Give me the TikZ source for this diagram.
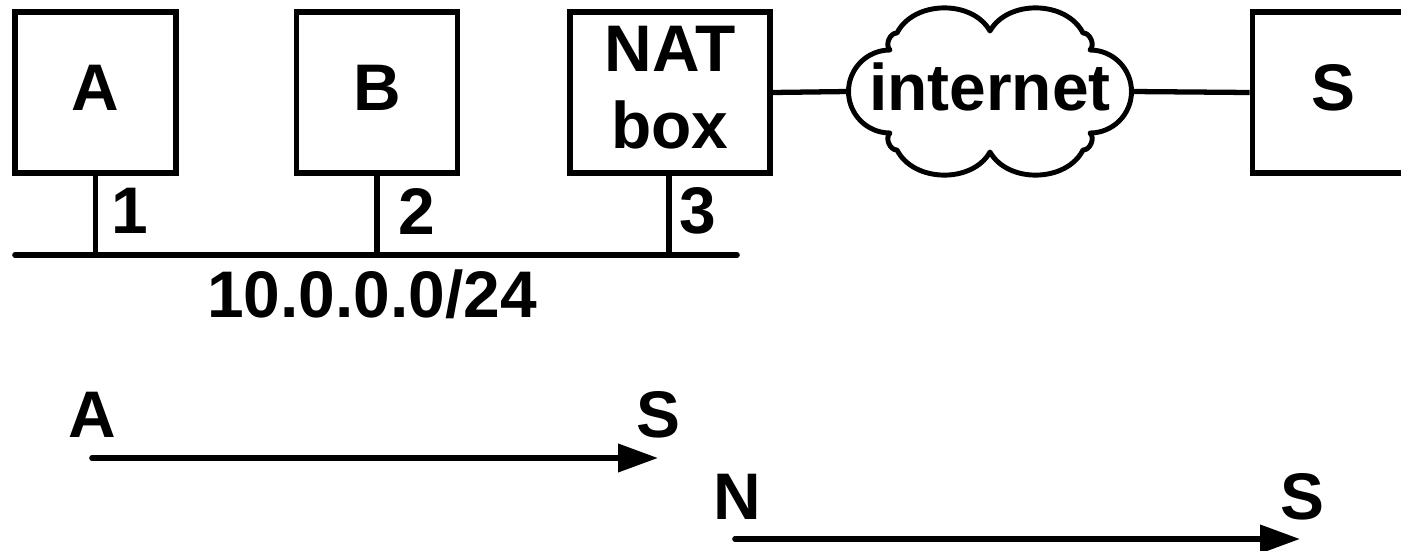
\documentclass[tikz,border=0pt]{standalone}
\usepackage{fontspec}
\setmainfont{Liberation Sans}
\usepackage{tikz}
\usetikzlibrary{arrows.meta,positioning,shapes,calc}
\newcommand{\figfont}{\fontsize{37.5}{44}\selectfont\bfseries}
\tikzset{
  hostbox/.style={
    draw=black, line width=3.2pt, rectangle,
    inner sep=0pt, minimum width=3.22cm, minimum height=3.22cm,
    text depth=0.2cm, align=center, font=\figfont
  },
  cloudline/.style={draw=black, line width=2.8pt, line join=round},
  plainlabel/.style={inner sep=0pt, font=\figfont},
  wire/.style={line width=3pt},
  bus/.style={line width=3.2pt, line cap=round},
  flow/.style={line width=3.2pt, line cap=round,
    -{Triangle[length=0.8cm,width=0.55cm]}}
}
\begin{document}
\begin{tikzpicture}[x=0.02cm,y=-0.02cm]
  \clip (0,0) rectangle (1401,551);

  \node[hostbox] (A) at (95.5,92.5) {A};
  \node[hostbox] (B) at (377,92.5) {B};
  \node[hostbox,minimum width=4cm] (NAT) at (670,92.5) {NAT\\box};
  \node[hostbox] (S) at (1333,92.5) {S};

  % internet cloud
  \begin{scope}[shift={(990,91.5)},y=0.02cm]
    \draw[cloudline] (-100,-41.5) arc[start angle=270,end angle=90,radius=41.5]
      to[bend left=70] (-93,58.5) to[bend left=62] (0,60.5)
      to[bend left=62] (93,58.5) to[bend left=70] (100,41.5)
      arc[start angle=90,end angle=-90,radius=41.5]
      to[bend left=70] (93,-58.5) to[bend left=62] (0,-60.5)
      to[bend left=62] (-93,-58.5) to[bend left=70] cycle;
    \coordinate (netW) at (-141.5,0);
    \coordinate (netE) at (141.5,0);
  \end{scope}
  \node[plainlabel] (inet) at (990,87) {internet};

  \draw[wire] (NAT.east) -- (netW);
  \draw[wire] (netE) -- (S.west);

  \coordinate (busL) at (15,255);
  \coordinate (busR) at (737,255);
  \draw[bus] (busL) -- (busR);
  \draw[wire] (A.south) -- (A.south |- busL);
  \draw[wire] (B.south) -- (B.south |- busL);
  \draw[wire] ([xshift=-0.02cm]NAT.south) -- ([xshift=-0.02cm]NAT.south |- busL);

  \node[plainlabel] (p1) at (130,211) {1};
  \node[plainlabel] (p2) at (417,211) {2};
  \node[plainlabel] (p3) at (698,211) {3};
  \node[plainlabel] (subnet) at (372,294) {10.0.0.0/24};

  \node[plainlabel] (srcA) at (92,415) {A};
  \node[plainlabel] (dstS1) at (658,415) {S};
  \coordinate (f1a) at (92,458);
  \coordinate (f1b) at (658,458);
  \draw[flow] (f1a) -- (f1b);

  \node[plainlabel] (srcN) at (737,497) {N};
  \node[plainlabel] (dstS2) at (1302,497) {S};
  \coordinate (f2a) at (735,539);
  \coordinate (f2b) at (1300,539);
  \draw[flow] (f2a) -- (f2b);
\end{tikzpicture}
\end{document}
